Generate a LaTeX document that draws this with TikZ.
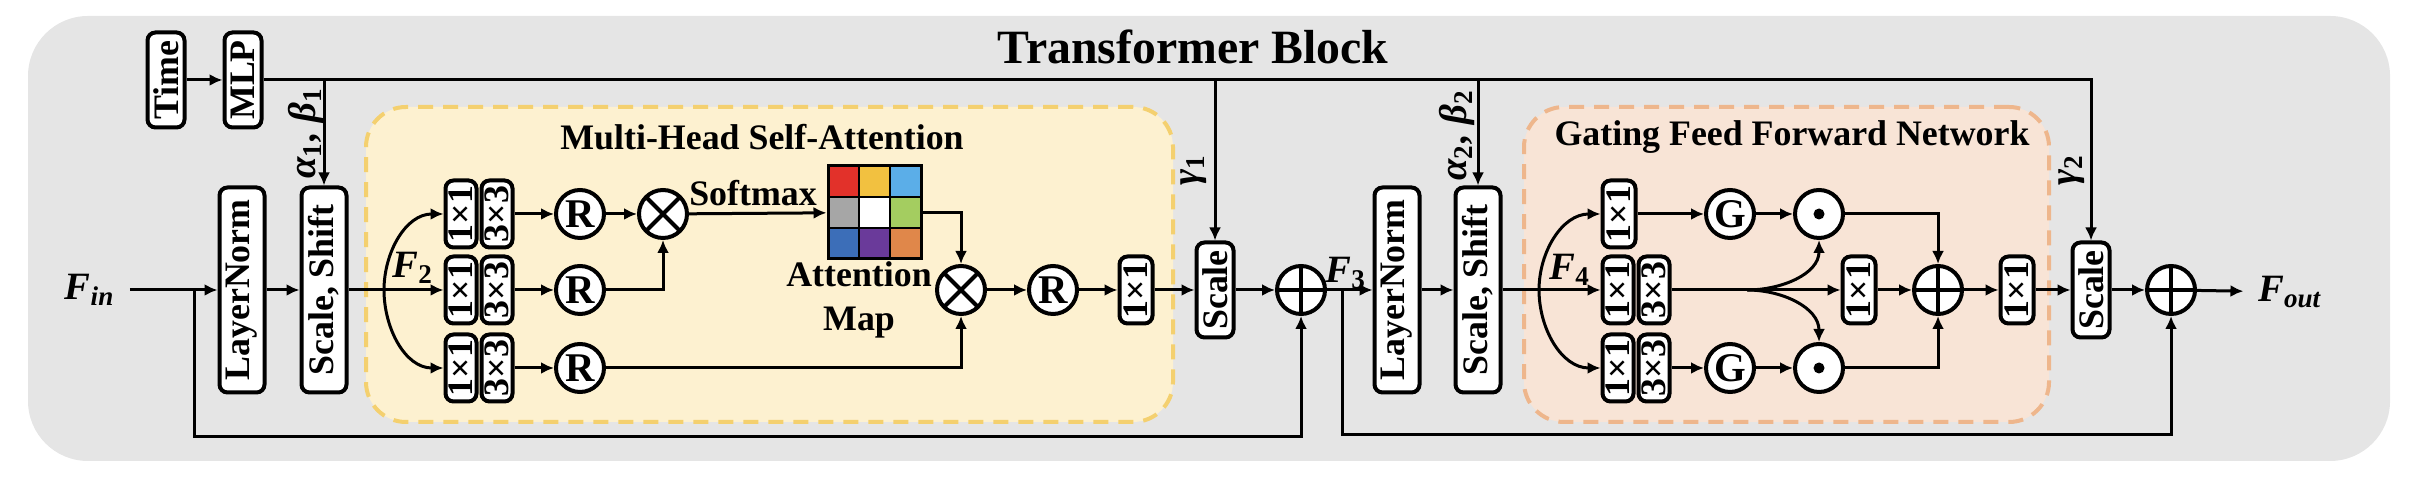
\documentclass[tikz,border=0pt]{standalone}
\usepackage{fontspec}
\setmainfont{Liberation Serif}
\usetikzlibrary{arrows.meta,positioning}

\definecolor{bggray}{HTML}{E5E5E5}
\definecolor{attfill}{HTML}{FDF1D0}
\definecolor{attline}{HTML}{F4D06F}
\definecolor{ffnfill}{HTML}{F8E4D6}
\definecolor{ffnline}{HTML}{EEB68C}
\definecolor{amRed}{HTML}{E2312A}
\definecolor{amYel}{HTML}{F2C140}
\definecolor{amSky}{HTML}{5BAEE8}
\definecolor{amGry}{HTML}{A6A6A6}
\definecolor{amGrn}{HTML}{A4CD60}
\definecolor{amBlu}{HTML}{3C6EB8}
\definecolor{amPur}{HTML}{6A3A9A}
\definecolor{amOrg}{HTML}{E0874A}

\newcommand{\vtxt}[1]{\rotatebox{90}{#1}}

\begin{document}
\begin{tikzpicture}[
    x=0.1mm, y=-0.1mm,
    font=\fontsize{10.2}{11}\selectfont\bfseries,
    blk/.style={draw, line width=0.4mm, rounded corners=0.8mm, fill=white, inner sep=0pt},
    tall/.style={blk, minimum width=4.5mm, minimum height=20.5mm},
    short/.style={blk, minimum width=3.7mm, minimum height=9.5mm},
    conv/.style={blk, minimum width=3.1mm, minimum height=6.7mm},
    op/.style={draw, circle, line width=0.4mm, fill=white, minimum size=4.8mm, inner sep=0pt,
               font=\fontsize{11.6}{12}\selectfont\bfseries},
    mulop/.style={op, path picture={\draw[line width=0.4mm]
        (path picture bounding box.north west) -- (path picture bounding box.south east)
        (path picture bounding box.north east) -- (path picture bounding box.south west);}},
    addop/.style={op, path picture={\draw[line width=0.4mm]
        (path picture bounding box.north) -- (path picture bounding box.south)
        (path picture bounding box.west) -- (path picture bounding box.east);}},
    dotop/.style={op, path picture={\fill[black] (path picture bounding box.center) circle (0.55mm);}},
    grp/.style={line width=0.4mm, rounded corners=4mm, dash pattern=on 1.5mm off 1mm,
                minimum height=31.5mm},
    arr/.style={line width=0.3mm, -{Latex[length=1.3mm,width=1.2mm]}},
    ln/.style={line width=0.3mm},
    lab/.style={font=\fontsize{10.2}{12.5}\selectfont\bfseries, align=center},
    var/.style={font=\fontsize{11}{12}\selectfont\bfseries\itshape, inner sep=1pt},
    coef/.style={var, rotate=90}]

  \useasboundingbox (0,0) rectangle (2418,480);
  \fill[bggray, rounded corners=6mm] (28,16) rectangle (2390,461);

  \node[font=\fontsize{13.6}{15}\selectfont\bfseries] (title) at (1193,47) {Transformer Block};

  \node[grp, draw=attline, fill=attfill, minimum width=80.7mm] (mhsa) at (769.5,264.5) {};
  \node (mhsat) at (762,137) {Multi-Head Self-Attention};
  \node[grp, draw=ffnline, fill=ffnfill, minimum width=52.5mm] (gffn) at (1786.5,264.5) {};
  \node (gffnt) at (1792,137) {Gating Feed Forward Network};

  \node[short] (time) at (166,80) {\vtxt{Time}};
  \node[short] (mlp) at (243,80) {\vtxt{MLP}};

  \node[var, inner sep=4pt] (fin) at (90,290) {F\textsubscript{in}};
  \node[tall] (ln1) at (242,290) {\vtxt{LayerNorm}};
  \node[tall] (ss1) at (324,290) {\vtxt{Scale, Shift}};
  \coordinate (sk1) at (194,290);
  \coordinate (sp1) at (384,290);

  \node[conv] (qa) at (461,214) {\vtxt{1×1}};
  \node[conv, right=0.1mm of qa] (qb) {\vtxt{3×3}};
  \node[conv] (ka) at (461,290) {\vtxt{1×1}};
  \node[conv, right=0.1mm of ka] (kb) {\vtxt{3×3}};
  \node[conv] (va) at (461,368) {\vtxt{1×1}};
  \node[conv, right=0.1mm of va] (vb) {\vtxt{3×3}};

  \node[op] (rq) at (580,214) {R};
  \node[op] (rk) at (580,290) {R};
  \node[op] (rv) at (580,368) {R};
  \node[mulop] (mul1) at (663,214) {};

  \foreach \cx/\cy/\cc in {0/0/amRed,1/0/amYel,2/0/amSky,0/1/amGry,1/1/white,2/1/amGrn,
                           0/2/amBlu,1/2/amPur,2/2/amOrg}
    \filldraw[fill=\cc, line width=0.25mm] ({828+31*\cx},{166+31*\cy}) rectangle ++(31,31);
  \node[draw, line width=0.3mm, minimum size=9.3mm, inner sep=0pt] (amap) at (874.5,212.5) {};
  \node[lab] (amapt) at (859,300) {Attention\\Map};

  \node[mulop] (mul2) at (961,290) {};
  \node[op] (rout) at (1053,290) {R};
  \node[conv, minimum width=3.3mm] (proj) at (1136,290) {\vtxt{1×1}};
  \node[short] (sc1) at (1215,290) {\vtxt{Scale}};
  \node[addop] (add1) at (1301,290) {};

  \coordinate (sk2) at (1342,290);
  \node[tall] (ln2) at (1397,290) {\vtxt{LayerNorm}};
  \node[tall] (ss2) at (1478,290) {\vtxt{Scale, Shift}};
  \coordinate (sp2) at (1539,290);

  \node[conv, minimum width=3.3mm] (ga) at (1619,214) {\vtxt{1×1}};
  \node[conv] (gb1) at (1618,290) {\vtxt{1×1}};
  \node[conv, right=0.1mm of gb1] (gb2) {\vtxt{3×3}};
  \node[conv] (gc1) at (1618,368) {\vtxt{1×1}};
  \node[conv, right=0.1mm of gc1] (gc2) {\vtxt{3×3}};
  \node[op] (g1) at (1730,214) {G};
  \node[op] (g2) at (1730,368) {G};
  \node[dotop] (dot1) at (1819,214) {};
  \node[dotop] (dot2) at (1819,368) {};
  \coordinate (br) at (1747,290);
  \node[conv, minimum width=3.3mm] (gd) at (1859,290) {\vtxt{1×1}};
  \node[addop] (gadd) at (1938,290) {};
  \node[conv, minimum width=3.3mm] (gout) at (2017,290) {\vtxt{1×1}};
  \node[short] (sc2) at (2091,290) {\vtxt{Scale}};
  \node[addop] (add2) at (2171,290) {};
  \node[var, inner sep=4pt] (fout) at (2290,292) {F\textsubscript{out}};

  \draw[arr] (time) -- (mlp);
  \draw[arr] (mlp) -| (sc2);
  \foreach \n in {ss1,sc1,ss2}
    \draw[arr] (\n |- mlp) -- (\n);
  \node[coef] (ab1) at (306,133) {α\textsubscript{\upshape 1}, β\textsubscript{\upshape 1}};
  \node[coef] (gm1) at (1194,170) {γ\textsubscript{\upshape 1}};
  \node[coef] (ab2) at (1457,135) {α\textsubscript{\upshape 2}, β\textsubscript{\upshape 2}};
  \node[coef] (gm2) at (2072,170) {γ\textsubscript{\upshape 2}};

  \draw[arr] (fin) -- (ln1);
  \draw[arr] (ln1) -- (ss1);
  \draw[ln] (ss1) -- (sp1);
  \draw[arr] (sp1) -- (ka);
  \draw[arr] (sp1) to[out=90,in=180] (qa);
  \draw[arr] (sp1) to[out=-90,in=180] (va);
  \node[var] (f2) at (413,268) {F\textsubscript{\upshape 2}};
  \foreach \a/\b in {qb/rq,kb/rk,vb/rv,rq/mul1,mul1/amap,mul2/rout,rout/proj,proj/sc1,
                     sc1/add1,add1/ln2,ln2/ss2}
    \draw[arr] (\a) -- (\b);
  \node (smax) at (753,193) {Softmax};
  \draw[arr] (rk) -| (mul1);
  \draw[arr] (amap) -| (mul2);
  \draw[arr] (rv) -| (mul2);
  \draw[arr] (sk1) -- (194,437) -| (add1);
  \node[var] (f3) at (1346,273) {F\textsubscript{\upshape 3}};

  \draw[ln] (ss2) -- (sp2);
  \draw[arr] (sp2) -- (gb1);
  \draw[arr] (sp2) to[out=90,in=180] (ga);
  \draw[arr] (sp2) to[out=-90,in=180] (gc1);
  \node[var] (f4) at (1570,270) {F\textsubscript{\upshape 4}};
  \foreach \a/\b in {ga/g1,g1/dot1,gc2/g2,g2/dot2,gb2/gd,gd/gadd,gadd/gout,gout/sc2,
                     sc2/add2,add2/fout}
    \draw[arr] (\a) -- (\b);
  \draw[arr] (br) to[out=0,in=-90] (dot1);
  \draw[arr] (br) to[out=0,in=90] (dot2);
  \draw[arr] (dot1) -| (gadd);
  \draw[arr] (dot2) -| (gadd);
  \draw[arr] (sk2) -- (1342,435) -| (add2);
\end{tikzpicture}
\end{document}
